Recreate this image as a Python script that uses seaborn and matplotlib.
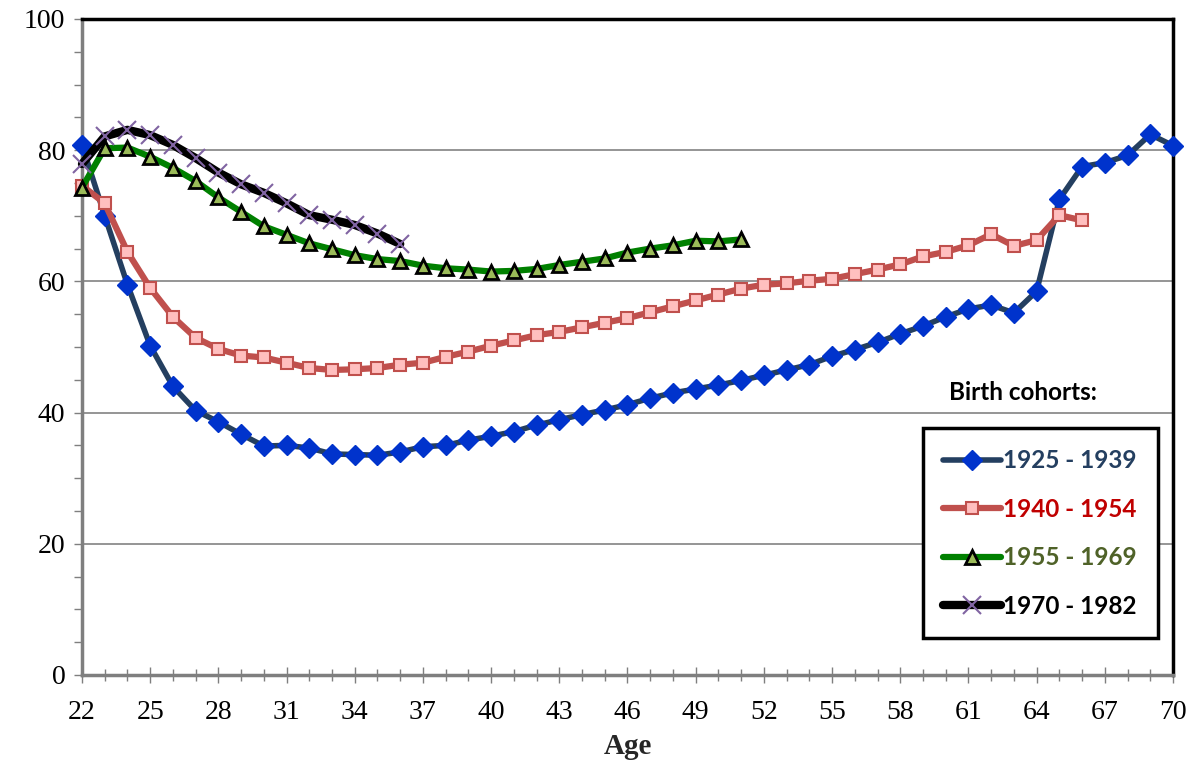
import numpy as np
import pandas as pd
import seaborn as sns
import matplotlib.pyplot as plt

# values, one per year of age
ages_1925 = list(range(22, 71))
vals_1925 = [80.8, 70.0, 59.5, 50.2, 44.0, 40.3, 38.6, 36.7, 34.9, 35.0,
             34.6, 33.7, 33.6, 33.5, 34.0, 34.8, 35.0, 35.8, 36.4, 37.1,
             38.1, 38.9, 39.7, 40.4, 41.2, 42.2, 43.0, 43.6, 44.2, 44.9,
             45.7, 46.5, 47.3, 48.6, 49.6, 50.7, 52.0, 53.2, 54.6, 55.8,
             56.4, 55.2, 58.5, 72.5, 77.5, 78.1, 79.2, 82.4, 80.7]

ages_1940 = list(range(22, 67))
vals_1940 = [74.6, 71.9, 64.5, 59.0, 54.6, 51.4, 49.7, 48.7, 48.4, 47.6,
             46.8, 46.5, 46.6, 46.8, 47.3, 47.6, 48.5, 49.3, 50.2, 51.0,
             51.8, 52.3, 53.0, 53.7, 54.4, 55.3, 56.2, 57.1, 58.0, 58.9,
             59.5, 59.7, 60.1, 60.4, 61.1, 61.8, 62.6, 63.8, 64.5, 65.5,
             67.2, 65.4, 66.3, 70.1, 69.3]

ages_1955 = list(range(22, 52))
vals_1955 = [74.3, 80.3, 80.4, 79.0, 77.3, 75.3, 72.8, 70.6, 68.4, 67.1,
             65.8, 64.9, 64.0, 63.4, 63.1, 62.4, 62.0, 61.8, 61.5, 61.6,
             61.9, 62.5, 63.0, 63.5, 64.4, 65.0, 65.5, 66.2, 66.1, 66.4]

ages_1970 = list(range(22, 37))
vals_1970 = [77.9, 82.1, 83.1, 82.3, 80.8, 78.8, 76.6, 74.8, 73.5, 71.9,
             70.1, 69.4, 68.6, 67.3, 65.7]

labels = ["1925 - 1939", "1940 - 1954", "1955 - 1969", "1970 - 1982"]
x_ticks = list(range(22, 71, 3))
y_ticks = [0, 20, 40, 60, 80, 100]

sns.set_style("white")
plt.rcParams['font.family'] = ['Liberation Serif', 'DejaVu Serif']

fig = plt.figure(figsize=(11.97, 7.72), dpi=100)
ax = fig.add_axes([82 / 1197, 1 - 675 / 772, 1091 / 1197, 656 / 772])

styles = [
    dict(color="#243F60", lw=4, marker="D", ms=10, mfc="#0033CC", mec="#0033CC", mew=1),
    dict(color="#C0504D", lw=4.5, marker="s", ms=9, mfc="#FFBFBF", mec="#C0504D", mew=1.5),
    dict(color="#008000", lw=4.5, marker="^", ms=10, mfc="#9BBB59", mec="black", mew=2),
    dict(color="black", lw=6, marker="x", ms=13, mfc="#8064A2", mec="#8064A2", mew=1.5),
]
series = [(ages_1925, vals_1925), (ages_1940, vals_1940),
          (ages_1955, vals_1955), (ages_1970, vals_1970)]

for (ages, vals), lab, st in zip(series, labels, styles):
    df = pd.DataFrame({"Age": ages, "Value": vals})
    sns.lineplot(data=df, x="Age", y="Value", ax=ax, label=lab,
                 color=st["color"], linewidth=st["lw"], marker=st["marker"],
                 markersize=st["ms"], markerfacecolor=st["mfc"],
                 markeredgecolor=st["mec"], markeredgewidth=st["mew"],
                 clip_on=False, zorder=3)

ax.set_xlim(22, 70)
ax.set_ylim(0, 100)
ax.set_xticks(x_ticks)
ax.set_yticks(y_ticks)
ax.set_xticks(range(22, 71), minor=True)
ax.set_yticks(range(0, 101, 5), minor=True)
ax.yaxis.grid(True, color="#8C8C8C", lw=1.3)
ax.set_axisbelow(True)

for s in ["left", "bottom"]:
    ax.spines[s].set_color("#7F7F7F")
    ax.spines[s].set_linewidth(2.5)
for s in ["top", "right"]:
    ax.spines[s].set_color("black")
    ax.spines[s].set_linewidth(2.5)

ax.tick_params(axis="both", which="major", direction="out", length=0,
               labelsize=20, colors="black")
ax.tick_params(axis="x", which="both", bottom=True, direction="inout",
               length=12, width=1, color="#7F7F7F", pad=12)
ax.tick_params(axis="y", which="both", left=True, direction="out",
               length=6, width=1, color="#7F7F7F", pad=6)
ax.tick_params(axis="x", which="minor", length=8)

ax.set_xlabel("Age", fontsize=21, fontweight="bold", labelpad=6)
ax.set_ylabel("")

ax.text(0.862, 0.43, "Birth cohorts:", transform=ax.transAxes,
        ha="center", va="center", fontsize=17.5, fontweight="bold",
        family=["Lato", "DejaVu Sans"], color="black")

leg = ax.legend(loc="lower right", bbox_to_anchor=(0.986, 0.056),
                frameon=True, fancybox=False, edgecolor="black", framealpha=1,
                prop={"family": ["Lato", "DejaVu Sans"], "weight": "bold", "size": 17.5},
                handlelength=2.35, handletextpad=0.12, labelspacing=1.05,
                borderpad=0.85, borderaxespad=0)
leg.get_frame().set_linewidth(2.5)
for txt, c in zip(leg.get_texts(), ["#243F60", "#C00000", "#4F6228", "black"]):
    txt.set_color(c)

fig.savefig("out.png", dpi=100)
